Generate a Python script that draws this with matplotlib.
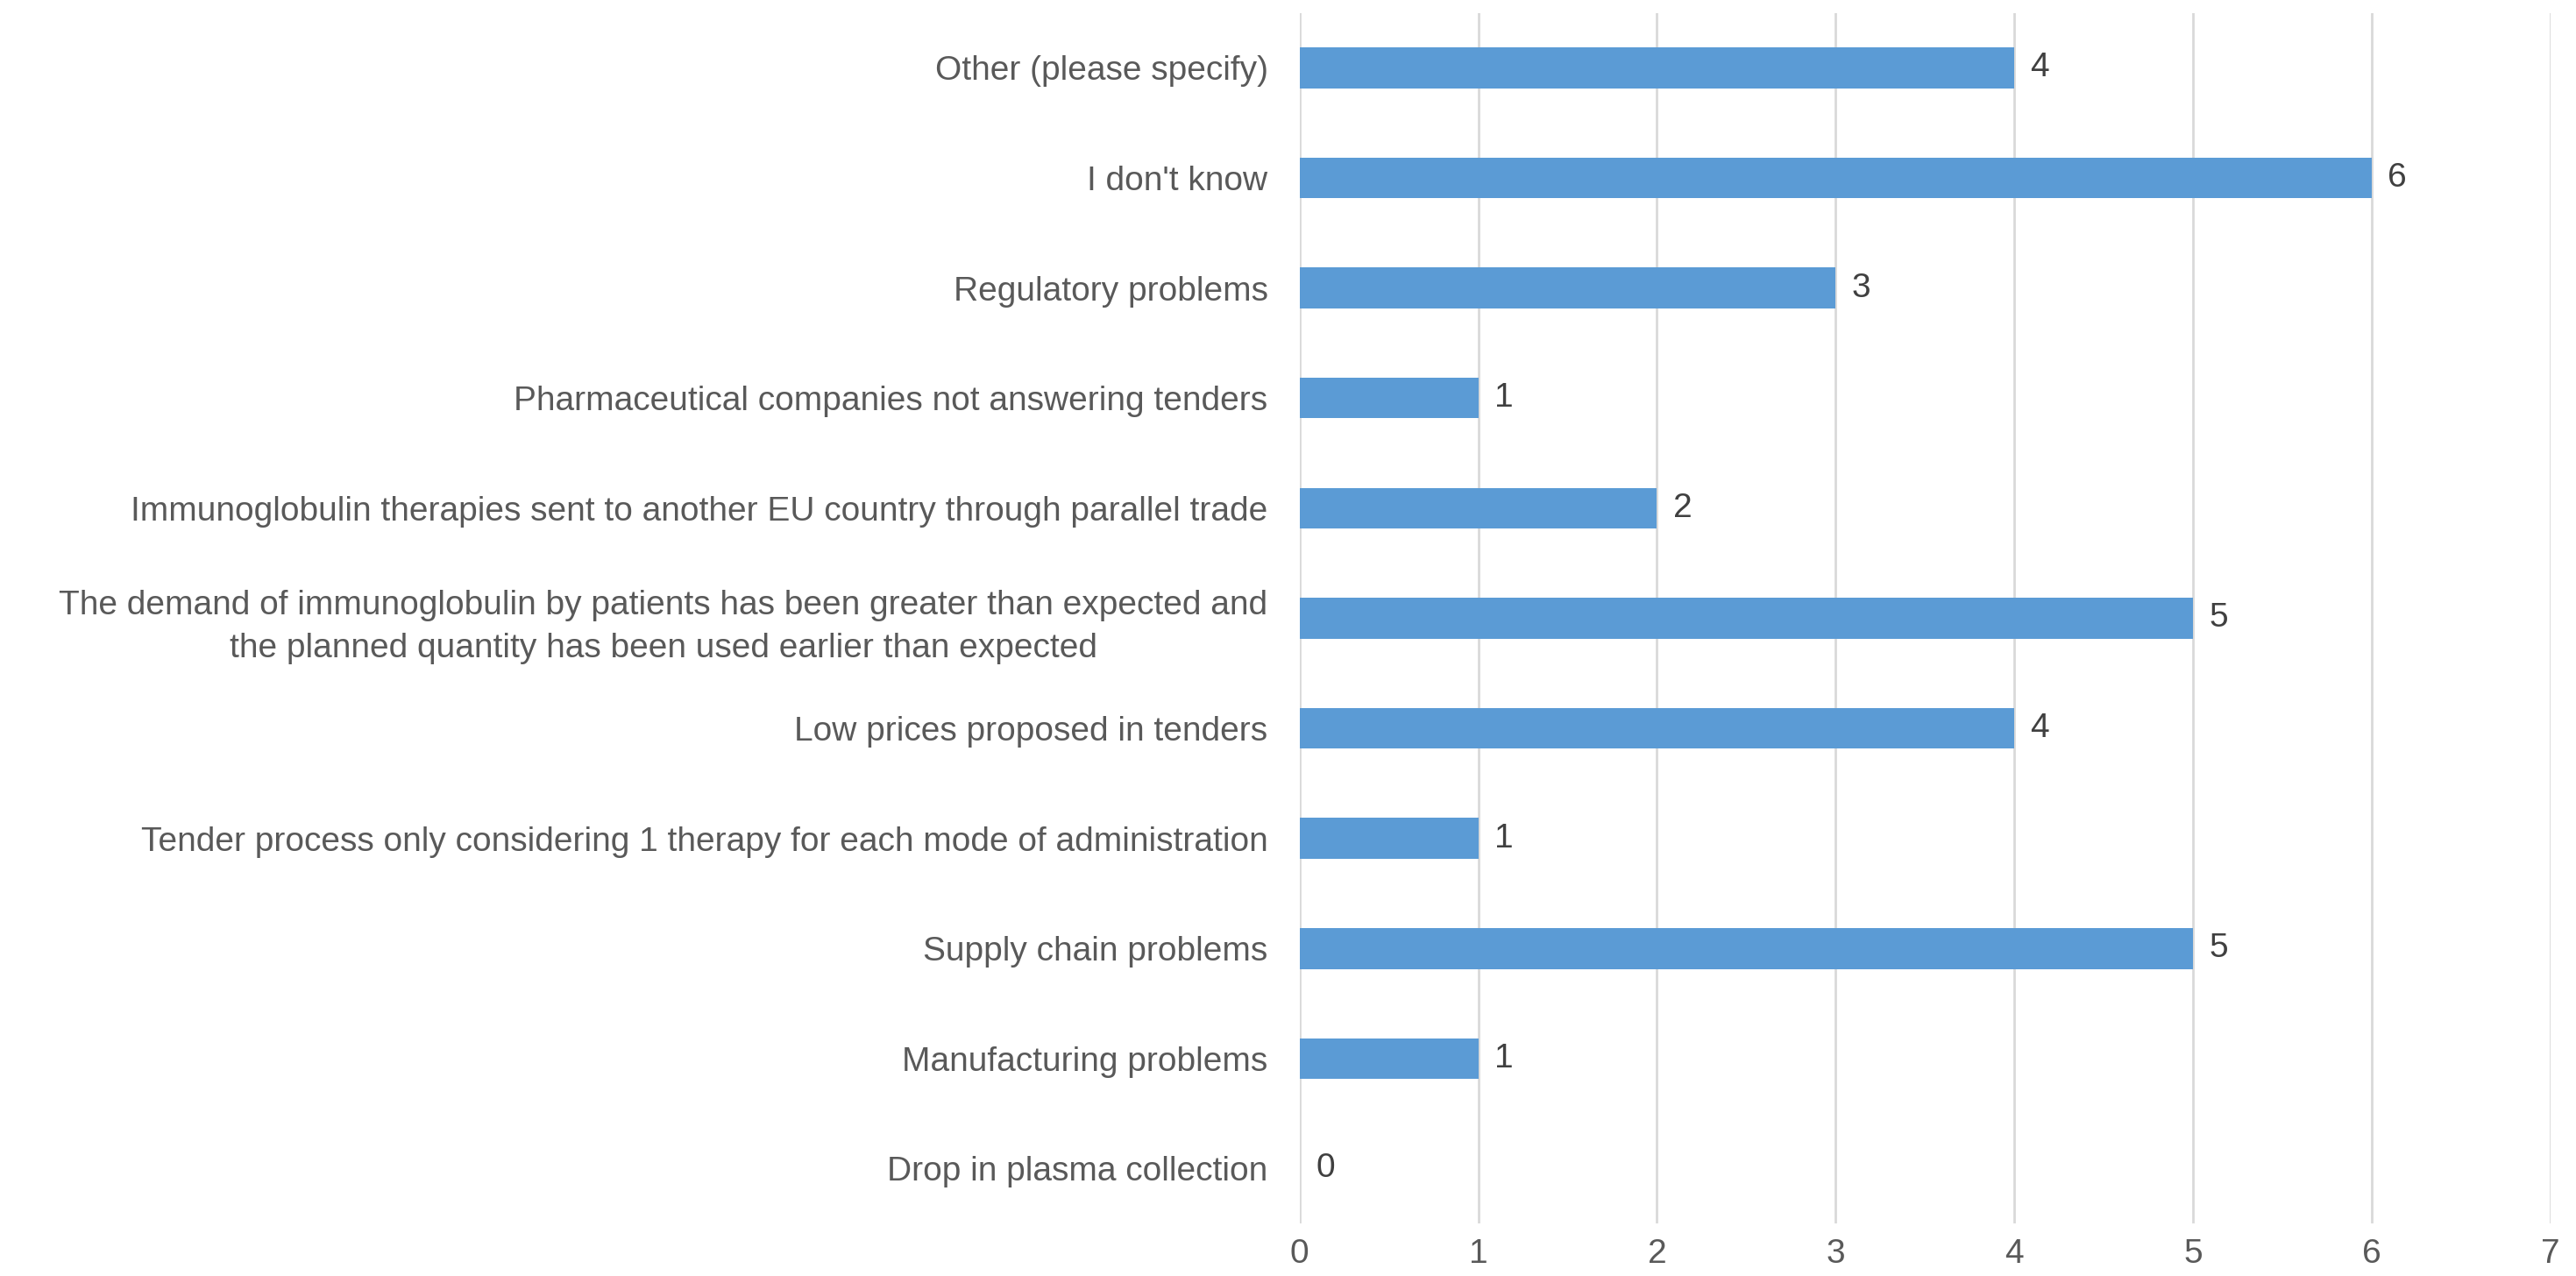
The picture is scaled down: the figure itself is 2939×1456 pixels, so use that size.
import matplotlib
matplotlib.use("Agg")
import matplotlib.pyplot as plt

# Reasons reported for immunoglobulin shortages (bottom to top)
reasons = [
    "Drop in plasma collection",
    "Manufacturing problems",
    "Supply chain problems",
    "Tender process only considering 1 therapy for each mode of administration",
    "Low prices proposed in tenders",
    "The demand of immunoglobulin by patients has been greater than expected and\nthe planned quantity has been used earlier than expected",
    "Immunoglobulin therapies sent to another EU country through parallel trade",
    "Pharmaceutical companies not answering tenders",
    "Regulatory problems",
    "I don't know",
    "Other (please specify)",
]
counts = [0, 1, 5, 1, 4, 5, 2, 1, 3, 6, 4]

BAR = "#5B9BD5"
TEXT = "#595959"
GRID = "#D9D9D9"
FS = 28

plt.rcParams["font.family"] = ["Liberation Sans", "DejaVu Sans"]

fig = plt.figure(figsize=(29.39, 14.56), dpi=100)
ax = fig.add_axes([0.5045, 0.041, 0.4855, 0.949])

ypos = list(range(len(reasons)))
ax.barh(ypos, counts, height=0.37, color=BAR, zorder=2)

for y, v in zip(ypos, counts):
    ax.text(v + 0.09, y, str(v), va="center", ha="left", fontsize=FS, color="#404040")

ax.set_xlim(0, 7)
ax.set_ylim(-0.5, len(reasons) - 0.5)
ax.set_xticks(range(0, 8))
ax.set_yticks(ypos)
ax.set_yticklabels(reasons, fontsize=FS, color=TEXT, multialignment="center",
                   linespacing=1.45)
ax.tick_params(axis="x", labelsize=FS, labelcolor=TEXT, length=0, pad=12)
ax.tick_params(axis="y", length=0, pad=26)

ax.grid(axis="x", color=GRID, linewidth=2, zorder=0)
for s in ax.spines.values():
    s.set_visible(False)

fig.savefig("out.png", dpi=100, facecolor="white")
